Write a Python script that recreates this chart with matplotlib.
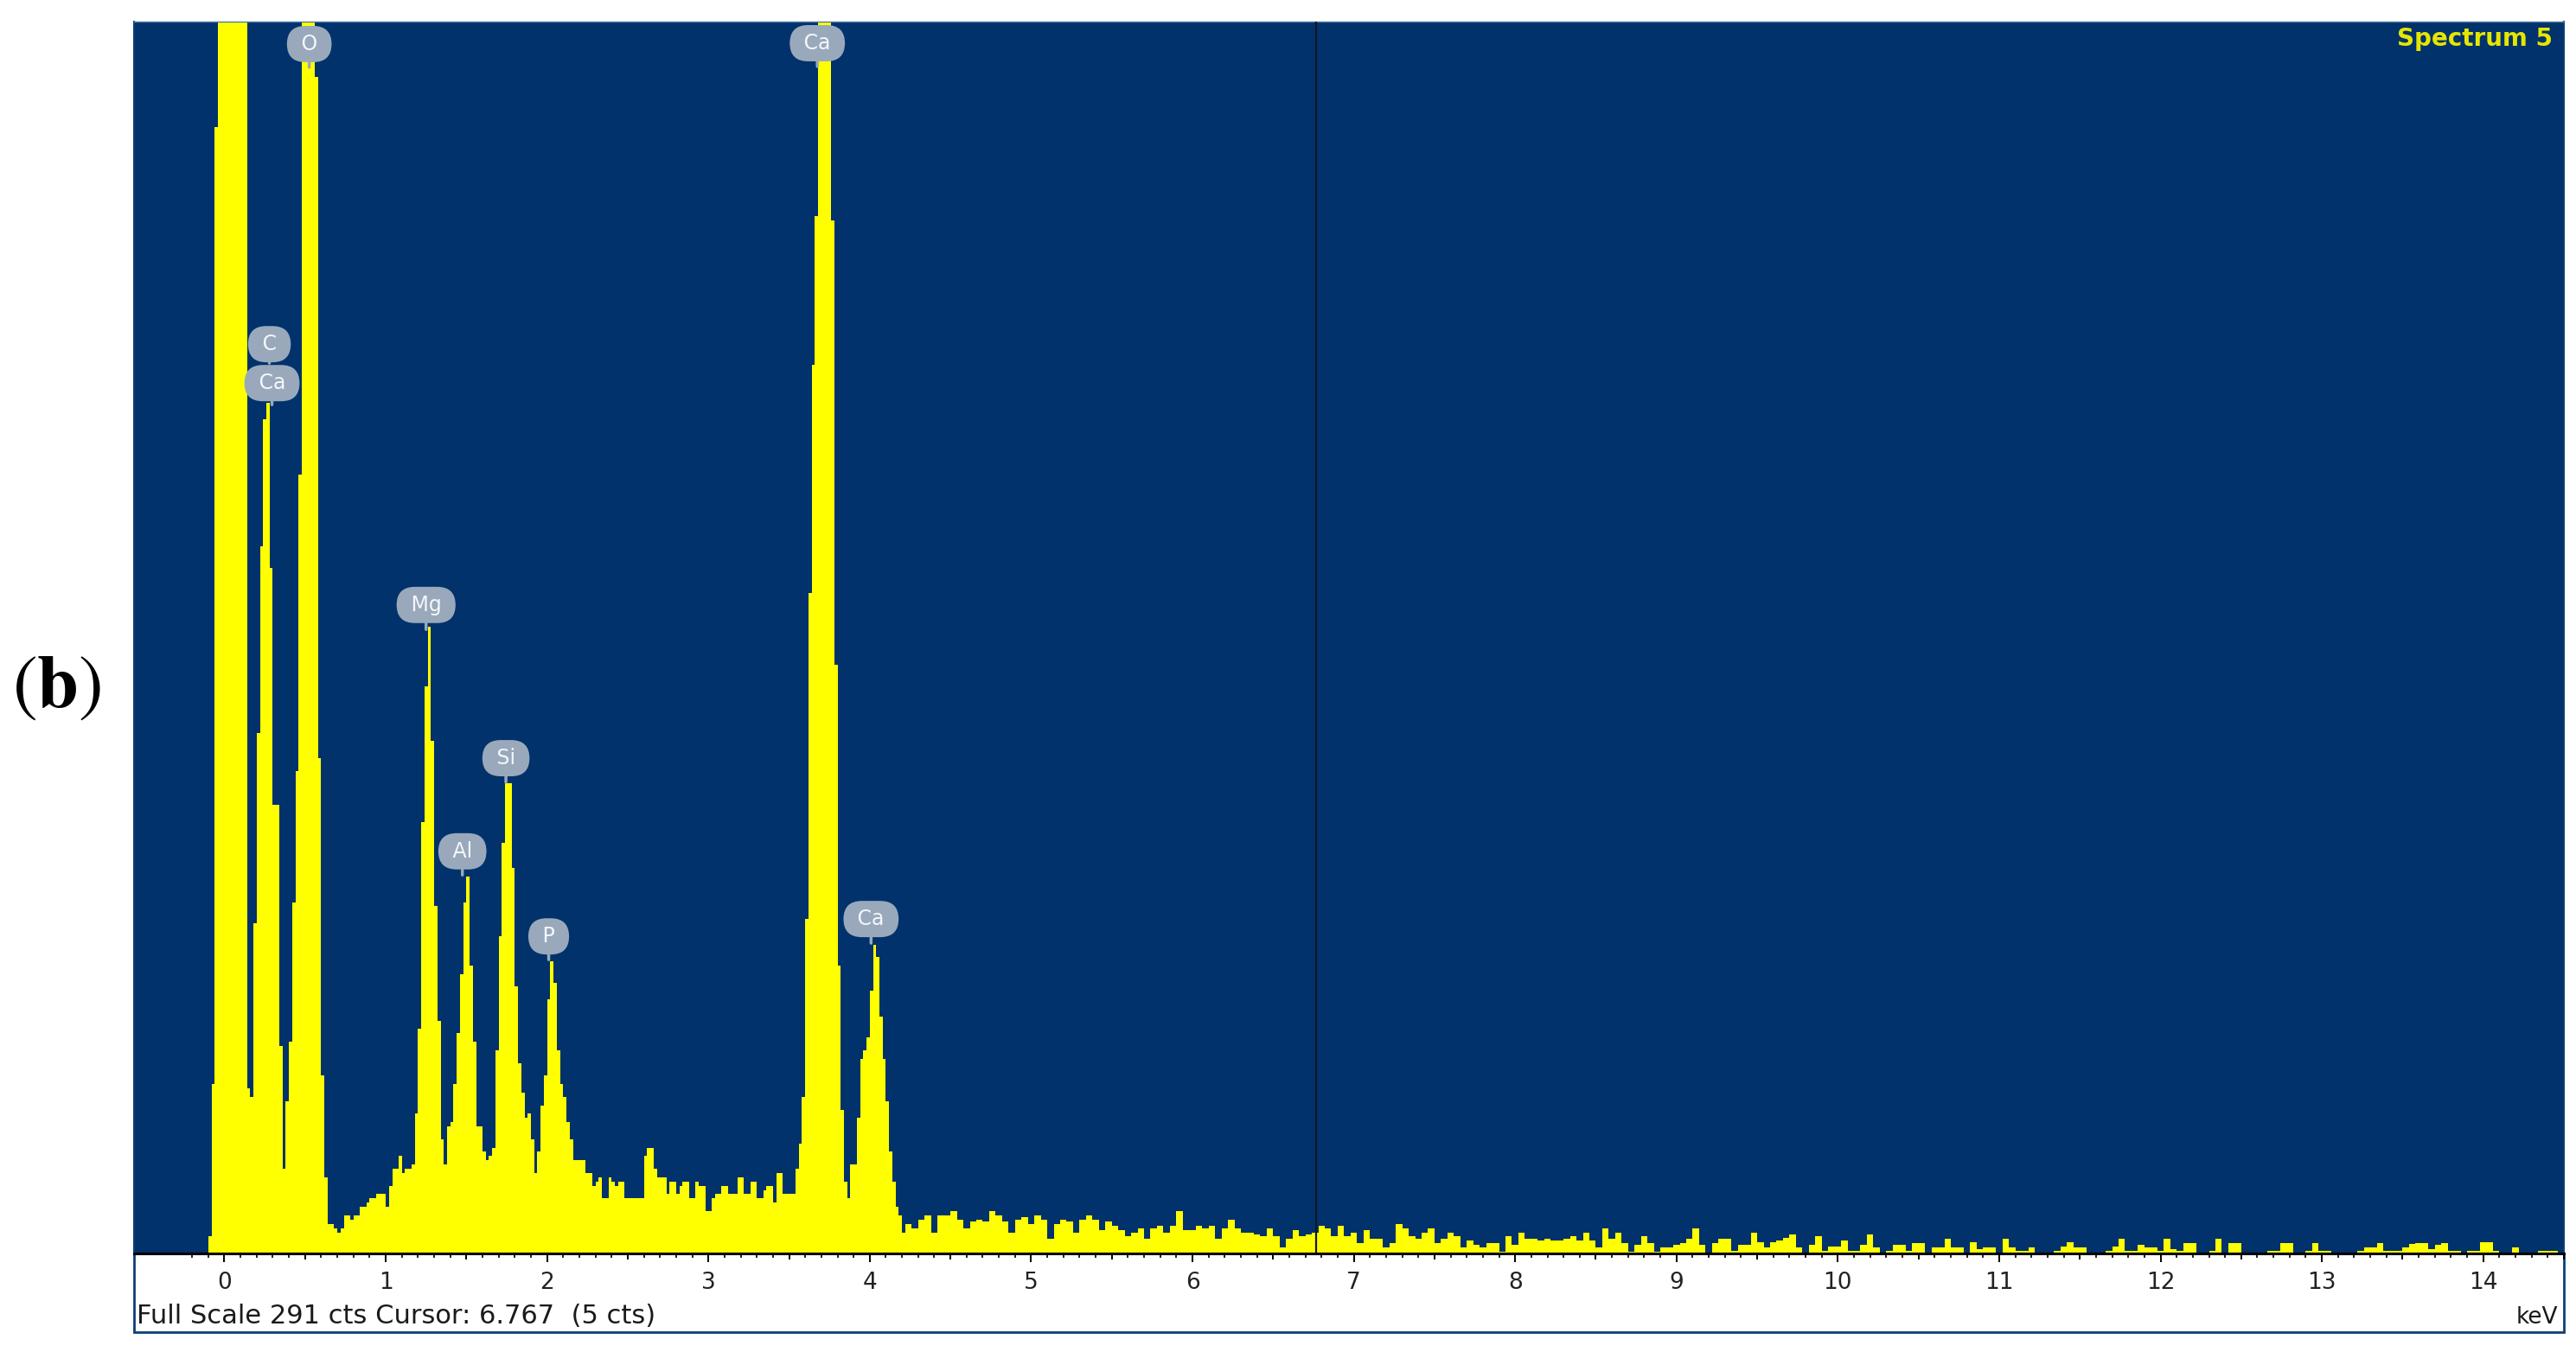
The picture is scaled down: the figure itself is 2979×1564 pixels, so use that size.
# EDS spectrum (Spectrum 5) - recreated from the figure
import numpy as np
import matplotlib.pyplot as plt
from matplotlib.patches import Rectangle

plt.rcParams['font.family'] = ['DejaVu Sans']
plt.rcParams['mathtext.fontset'] = 'stix'

# ================================
# 1. data (counts)
# ================================
# 0.02 keV channels, first channel starts at -0.10 keV (ends at 4.22 keV)
low_counts = [
    4, 40, 266, 520, 900, 1200, 1300, 1150, 850, 600,        # -0.09 .. 0.09
    430, 320, 39, 37, 78, 123, 167, 197, 201, 162,           # 0.11 .. 0.29
    106, 106, 49, 20, 36, 50, 83, 114, 184, 340,             # 0.31 .. 0.49
    460, 520, 430, 278, 117, 42, 18, 7, 7, 6,                # 0.51 .. 0.69
    5, 6, 9, 9, 8, 9, 9, 11, 11, 12,                         # 0.71 .. 0.89
    13, 13, 14, 14, 14, 11, 16, 20, 20, 23,                  # 0.91 .. 1.09
    19, 20, 20, 21, 33, 53, 102, 134, 148, 121,              # 1.11 .. 1.29
    82, 55, 27, 21, 30, 31, 40, 52, 66, 83,                  # 1.31 .. 1.49
    89, 68, 50, 30, 30, 24, 22, 23, 25, 48,                  # 1.51 .. 1.69
    75, 97, 111, 111, 91, 63, 45, 38, 32, 33,                # 1.71 .. 1.89
    27, 19, 24, 35, 42, 60, 69, 64, 48, 40,                  # 1.91 .. 2.09
    37, 31, 27, 22, 22, 22, 22, 19, 19, 16,                  # 2.11 .. 2.29
    17, 18, 13, 13, 18, 17, 16, 17, 17, 13,                  # 2.31 .. 2.49
    13, 13, 13, 13, 13, 23, 25, 25, 20, 18,                  # 2.51 .. 2.69
    18, 18, 14, 17, 17, 14, 16, 17, 17, 13,                  # 2.71 .. 2.89
    13, 17, 16, 16, 10, 10, 13, 14, 14, 16,                  # 2.91 .. 3.09
    16, 14, 14, 14, 18, 18, 14, 14, 17, 17,                  # 3.11 .. 3.29
    13, 13, 15, 16, 16, 12, 19, 19, 14, 14,                  # 3.31 .. 3.49
    14, 14, 20, 26, 37, 79, 156, 210, 245, 420,              # 3.51 .. 3.69
    520, 470, 330, 244, 139, 68, 34, 17, 13, 21,             # 3.71 .. 3.89
    21, 32, 46, 48, 51, 62, 73, 70, 56, 46,                  # 3.91 .. 4.09
    36, 24, 17, 11, 9, 5,                                    # 4.11 .. 4.21
]

# background, 0.04 keV bins starting at 4.22 keV
bkg_4_7 = [
    7, 6, 8, 9, 5, 9, 9, 10, 8, 6,
    7.5, 8, 7.5, 10, 9, 7.5, 5, 8, 8.5, 7,
    9, 8, 3.5, 7, 8, 7.5, 5, 8, 9, 8,
    5.5, 7.5, 6.5, 5.5, 4, 5, 6, 3.5, 6, 6.5,
    5, 6.5, 10, 5.5, 5.5, 6.5, 6, 6.5, 3.5, 6,
    8, 6, 5, 5, 4.5, 4, 6, 4, 1.5, 3.5,
    5.5, 4, 4.5, 5, 6.5, 6, 4, 6.5, 4, 5,
    2.5, 5.5, 3.5, 3.5,
]
bkg_7_9 = [
    1.5, 2.5, 7, 6, 4, 3.5, 5, 6, 2.5, 3.5,
    5, 4, 1.5, 3, 2, 1.5, 2.5, 2.5, 0.5, 4,
    2, 5, 3.5, 3.5, 3, 3.5, 3, 3, 3.5, 4,
    3, 5, 3, 1.5, 6, 3.5, 5, 2.5, 0.5, 2,
    4, 2.5, 0.5, 1.5, 1.5, 2, 2.5, 3.5, 6, 2,
    0, 2.5, 3.5, 3.5,
]
bkg_9_14 = [
    0.7, 2, 2, 5, 2.7, 1.4, 2.7, 3, 3.7, 4.4,
    1.4, 0.3, 2, 4, 0.7, 1.7, 1.7, 3, 0.7, 0.7,
    2, 4.4, 1.4, 0, 0.7, 2, 2, 0.7, 2.4, 2.4,
    0.3, 1.4, 1.4, 3.4, 1.4, 1.4, 0.3, 2.7, 1, 1.4,
    1.4, 0.3, 3.4, 1.4, 0.7, 0.7, 1.4, 0.3, 0.3, 0.3,
    0.7, 1.7, 2.7, 1.4, 1.4, 0.3, 0, 0, 0.7, 1.7,
    3.4, 0.7, 0.7, 2, 1.4, 1.4, 0.7, 3.4, 1, 0.7,
    2.4, 2.4, 0.3, 0.3, 0.7, 3.4, 0.3, 2.4, 2.4, 0.3,
    0.3, 0.3, 0.3, 0.7, 0.7, 2.4, 2.4, 0.3, 0.3, 0.7,
    2.4, 0.7, 0.7, 0.3, 0.3, 0.3, 0.3, 0.7, 1.4, 1.4,
    2.4, 0.7, 0.7, 0.7, 1.4, 2.2, 2.4, 2.4, 1, 2,
    2.4, 0.7, 0.7, 0.3, 0.7, 0.7, 2.6, 2.6, 0.7, 0.3,
    0.3, 1.4, 0.3, 0.3, 0.3, 0.7, 0.7, 0.7, 0.3,
]

# element markers: name, energy (keV), label height, stem tip height (cts)
peak_names = ["C", "Ca", "O", "Mg", "Al", "Si", "P", "Ca", "Ca"]
peak_kev = [0.279, 0.295, 0.526, 1.250, 1.475, 1.745, 2.010, 3.675, 4.008]
label_cts = [214.8, 205.6, 285.7, 153.2, 95.0, 117.0, 74.9, 285.9, 79.0]
tip_cts = [210.3, 200.5, 280.2, 147.4, 89.4, 111.3, 69.4, 280.4, 73.3]

full_scale = 291
cursor_kev = 6.767
cursor_cts = 5
x_min, x_max = -0.56, 14.50

BG = '#01326b'
YEL = '#ffff00'
BLOB = '#99a9bb'

# ================================
# 2. figure
# ================================
W, H = 2979, 1564
fig = plt.figure(figsize=(W / 100, H / 100), dpi=100)
ax = fig.add_axes([155 / W, 1 - 1450 / H, 2810 / W, 1425 / H])
ax.set_facecolor(BG)

# white strip under the plot
fig.add_artist(Rectangle((155 / W, 1 - 1541 / H), 2810 / W, 91 / H,
                         transform=fig.transFigure, facecolor='white',
                         edgecolor='#0d3f74', lw=2, zorder=-1))

tail = bkg_4_7 + bkg_7_9 + bkg_9_14
e_low = -0.10 + 0.02 * np.arange(len(low_counts) + 1)
e_tail = 4.22 + 0.04 * np.arange(len(tail) + 1)

for vals, edges in [(low_counts, e_low), (tail, e_tail)]:
    ax.stairs(vals, edges, fill=True, color=YEL, lw=0.6, zorder=2)

ax.axvline(cursor_kev, color='#111820', lw=1.6, zorder=4)

for name, e, yl, yt in zip(peak_names, peak_kev, label_cts, tip_cts):
    ax.annotate(f" {name} ", xy=(e, yt), xytext=(e, yl), ha='center', va='center',
                fontsize=17, color='#f4f6fa', zorder=6,
                bbox=dict(boxstyle='round,pad=0.38,rounding_size=0.9', fc=BLOB, ec='none'),
                arrowprops=dict(arrowstyle='-', color=BLOB, lw=2.5, shrinkA=0, shrinkB=0))

ax.text(0.9954, 0.986, "Spectrum 5", transform=ax.transAxes, ha='right', va='center',
        color='#e6e600', fontsize=20, fontweight='bold')

ax.set_xlim(x_min, x_max)
ax.set_ylim(0, full_scale)
ax.set_yticks([])

major = np.arange(0, 14.51, 0.5)
ax.set_xticks(major)
ax.set_xticklabels([str(int(v)) if v == int(v) else '' for v in major])
ax.set_xticks(np.arange(-0.2, 14.51, 0.1), minor=True)
ax.tick_params(axis='x', which='major', direction='out', length=7.2, width=1.4,
               color='black', pad=8, labelsize=19, labelcolor='#222222')
ax.tick_params(axis='x', which='minor', direction='out', length=3.6, width=1.2, color='black')
for t, v in zip(ax.xaxis.get_major_ticks(), major):
    if v != int(v):
        t.tick1line.set_markersize(5.2)

ax.spines['bottom'].set_color('black')
ax.spines['bottom'].set_linewidth(2.2)
ax.spines['top'].set_color('#4d7aa6')
ax.spines['top'].set_linewidth(1)
for s in ['left', 'right']:
    ax.spines[s].set_color('#0d3f74')
    ax.spines[s].set_linewidth(1.5)

fig.text(158 / W, 1 - 1531 / H,
         f"Full Scale {full_scale} cts Cursor: {cursor_kev:.3f}  ({cursor_cts} cts)",
         ha='left', va='baseline', fontsize=22, color='#1a1a1a')
fig.text(2958 / W, 1 - 1531 / H, "keV", ha='right', va='baseline', fontsize=19, color='#1a1a1a')

fig.text(66 / W, 1 - 794 / H, r'$(\mathbf{b})$', fontsize=62, ha='center', va='center')

fig.savefig("out.png", dpi=100)
